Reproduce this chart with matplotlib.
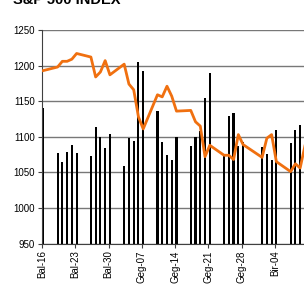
import matplotlib
matplotlib.use("Agg")
import matplotlib.pyplot as plt

plt.rcParams["font.family"] = ["Liberation Sans", "DejaVu Sans"]

# days counted from 16 April (Bal-16)
bar_days = [0, 3, 4, 5, 6, 7, 10, 11, 12, 13, 14, 17, 18, 19, 20, 21,
            24, 25, 26, 27, 28, 31, 32, 33, 34, 35, 38, 39, 40, 41, 42,
            46, 47, 48, 49, 52, 53, 54]
bar_values = [1140, 1077, 1064, 1079, 1088, 1077, 1073, 1114, 1099, 1084, 1104,
              1059, 1098, 1094, 1205, 1192, 1136, 1092, 1074, 1067, 1100,
              1087, 1099, 1108, 1155, 1190, 1075, 1129, 1133, 1087, 1093,
              1085, 1076, 1067, 1110, 1091, 1110, 1116]

line_days = bar_days + [55]
index_values = [1193, 1198, 1206, 1206, 1209, 1217, 1212, 1184, 1191, 1207, 1187,
                1202, 1174, 1166, 1128, 1111, 1159, 1156, 1171, 1157, 1136,
                1137, 1121, 1115, 1072, 1088, 1074, 1074, 1068, 1103, 1089,
                1071, 1098, 1103, 1065, 1051, 1062, 1056, 1087]

tick_days = [0, 7, 14, 21, 28, 35, 42, 49]
tick_labels = ["Bal-16", "Bal-23", "Bal-30", "Geg-07", "Geg-14", "Geg-21", "Geg-28", "Bir-04"]

fig = plt.figure(figsize=(3.04, 2.92), dpi=100)
ax = fig.add_axes([42 / 304, 1 - 243.5 / 292, 1 - 42 / 304, 213.5 / 292])

ax.bar([d + 0.05 for d in bar_days], bar_values, width=0.45, align="edge",
       color="black", zorder=2)
ax.plot([d + 0.28 for d in line_days], index_values, color="#F07010",
        linewidth=2.0, solid_joinstyle="round", zorder=3)

ax.set_ylim(950, 1250)
ax.set_xlim(0, 55.09)
ax.set_yticks(range(950, 1251, 50))
ax.yaxis.grid(True, color="#787878", linewidth=1.0, zorder=1)
ax.set_axisbelow(True)

ax.set_xticks(tick_days)
ax.set_xticklabels(tick_labels, rotation=90)
ax.tick_params(axis="both", labelsize=7, direction="out", length=3,
               width=0.8, color="#404040", pad=2)

for side in ["top", "right"]:
    ax.spines[side].set_visible(False)
ax.spines["left"].set_color("#404040")
ax.spines["bottom"].set_color("#404040")

fig.text(13 / 304, 1 - 3.5 / 292, "S&P 500 INDEX", fontsize=10.5, fontweight="bold",
         ha="left", va="baseline")

fig.savefig("out.png", dpi=100)
